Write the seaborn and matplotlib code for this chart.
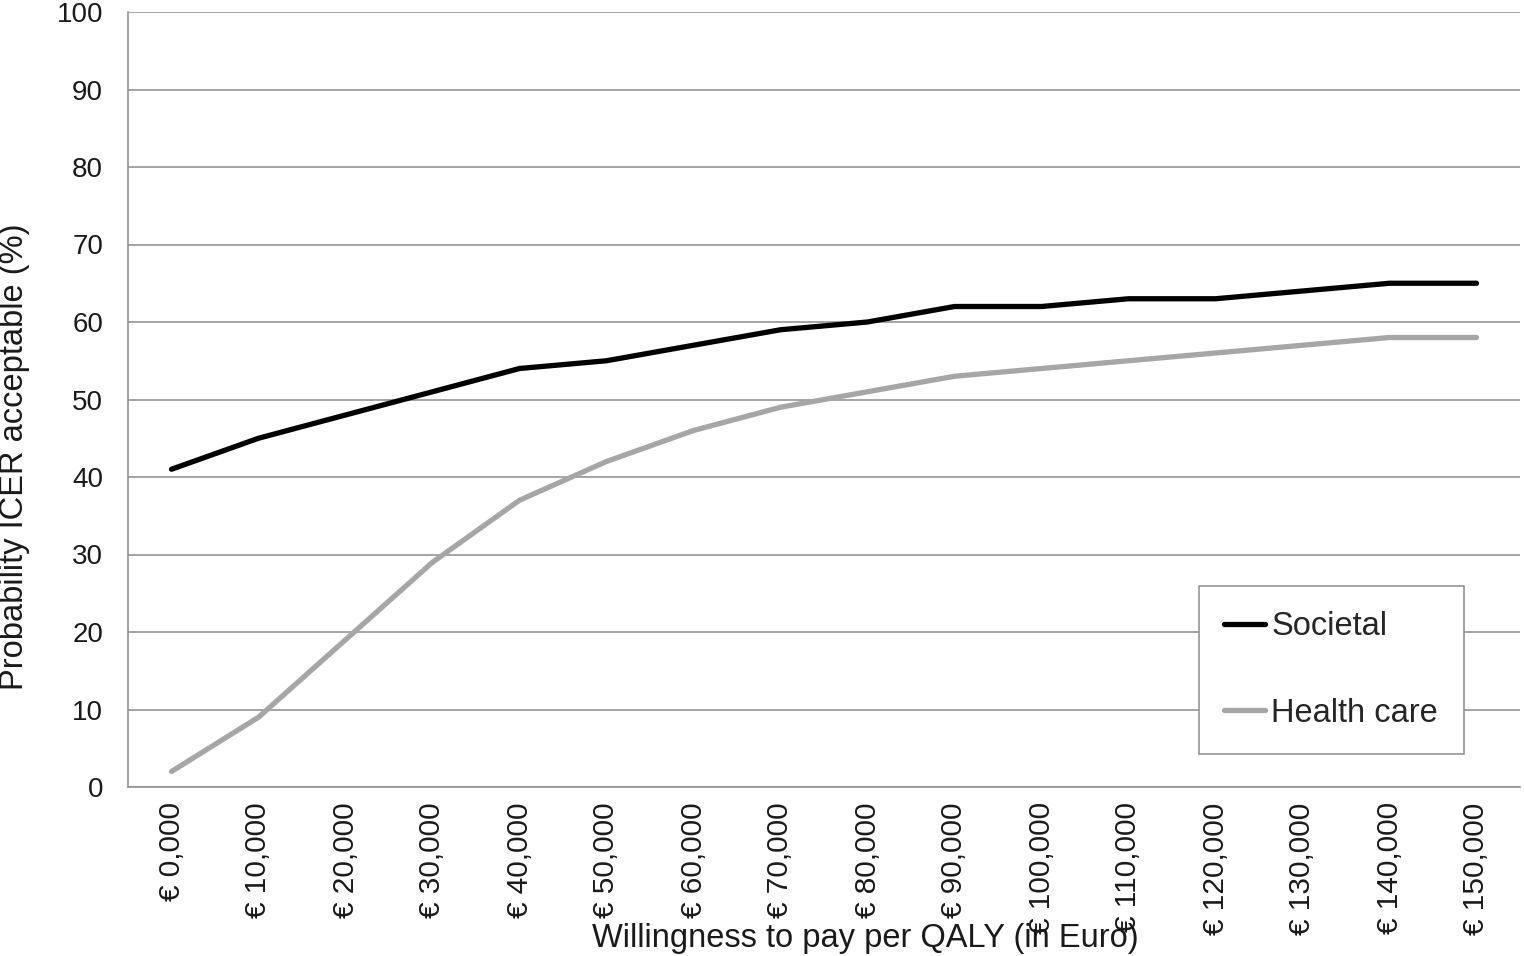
import matplotlib
matplotlib.use("Agg")
import matplotlib.pyplot as plt
import seaborn as sns
import pandas as pd

categories = ["€ 0,000", "€ 10,000", "€ 20,000", "€ 30,000", "€ 40,000", "€ 50,000",
              "€ 60,000", "€ 70,000", "€ 80,000", "€ 90,000", "€ 100,000", "€ 110,000",
              "€ 120,000", "€ 130,000", "€ 140,000", "€ 150,000"]
societal = [41, 45, 48, 51, 54, 55, 57, 59, 60, 62, 62, 63, 63, 64, 65, 65]
health_care = [2, 9, 19, 29, 37, 42, 46, 49, 51, 53, 54, 55, 56, 57, 58, 58]
series_names = ["Societal", "Health care"]
y_ticks = [0, 10, 20, 30, 40, 50, 60, 70, 80, 90, 100]

df = pd.DataFrame({
    "wtp": categories * 2,
    "prob": societal + health_care,
    "series": [series_names[0]] * len(categories) + [series_names[1]] * len(categories),
})

sns.set_theme(style="white")
plt.rcParams["font.family"] = ["Liberation Sans", "DejaVu Sans"]

fig = plt.figure(figsize=(15.24, 9.56), dpi=100)
ax = fig.add_axes([128 / 1524, 1 - 787 / 956, 1392 / 1524, 775 / 956])

sns.lineplot(data=df, x="wtp", y="prob", hue="series", sort=False,
             palette={"Societal": "#000000", "Health care": "#a6a6a6"},
             linewidth=3.8, ax=ax, legend=True)

ax.set_xlim(-0.5, len(categories) - 0.5)
ax.set_ylim(0, 100)
ax.set_yticks(y_ticks)
ax.yaxis.grid(True, color="#8c8c8c", linewidth=1.1)
ax.xaxis.grid(False)
ax.set_axisbelow(True)

for s in ["top", "right"]:
    ax.spines[s].set_visible(False)
for s in ["left", "bottom"]:
    ax.spines[s].set_color("#8c8c8c")
    ax.spines[s].set_linewidth(1.1)

ax.tick_params(axis="y", length=0, pad=18, labelsize=20, labelcolor="#1a1a1a")
ax.tick_params(axis="x", length=0, pad=11, labelsize=21.5, labelcolor="#1a1a1a")
for lbl in ax.get_xticklabels():
    lbl.set_rotation(90)
    lbl.set_va("top")
    lbl.set_ha("center")

ax.set_ylabel("Probability ICER acceptable (%)", fontsize=23.5, color="#1a1a1a")
ax.yaxis.set_label_coords((15 - 128) / 1392, (787 - 457) / 775)
ax.yaxis.label.set_va("center")
ax.set_xlabel("Willingness to pay per QALY (in Euro)", fontsize=23.5, color="#1a1a1a")
ax.xaxis.set_label_coords((865 - 128) / 1392, (787 - 938) / 775)
ax.xaxis.label.set_va("center")

leg = ax.legend(loc="lower left", bbox_to_anchor=((1199 - 128) / 1392, (787 - 754) / 775),
                frameon=True, fancybox=False, fontsize=23.5, handlelength=1.25,
                handletextpad=0.19, labelspacing=1.7, borderpad=0.78, borderaxespad=0)
leg.get_frame().set_edgecolor("#8c8c8c")
leg.get_frame().set_linewidth(1.1)
leg.get_frame().set_facecolor("white")
leg.get_frame().set_alpha(1)
for h in leg.get_lines():
    h.set_linewidth(3.8)

fig.savefig("out.png", dpi=100)
